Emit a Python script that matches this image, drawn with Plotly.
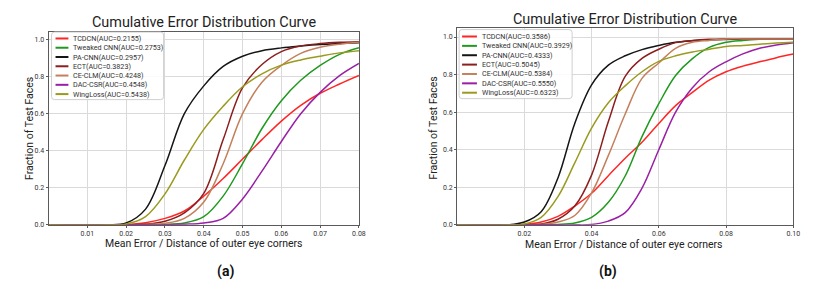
import plotly.graph_objects as go

W, H = 830, 291

# ---------------- data ----------------
methods = ["TCDCN", "Tweaked CNN", "PA-CNN", "ECT", "CE-CLM", "DAC-CSR", "WingLoss"]
auc_a = ["0.2155", "0.2753", "0.2957", "0.3823", "0.4248", "0.4548", "0.5438"]
auc_b = ["0.3586", "0.3929", "0.4333", "0.5045", "0.5384", "0.5550", "0.6323"]
colors = ["#ff2626", "#1f9a1f", "#151515", "#8c1e1e", "#c4805c", "#9a1fa6", "#9a9a1e"]

x_a = [0, 0.015, 0.02, 0.025, 0.03, 0.035, 0.04, 0.045, 0.05, 0.055, 0.06, 0.065, 0.07, 0.075, 0.08]
tcdcn_a   = [0, 0, 0.002, 0.012, 0.035, 0.075, 0.155, 0.25, 0.355, 0.46, 0.56, 0.645, 0.71, 0.76, 0.806]
tweaked_a = [0, 0, 0, 0, 0.002, 0.01, 0.044, 0.155, 0.33, 0.52, 0.67, 0.78, 0.86, 0.92, 0.956]
pacnn_a   = [0, 0, 0.01, 0.085, 0.32, 0.6, 0.75, 0.855, 0.91, 0.94, 0.955, 0.965, 0.973, 0.978, 0.982]
ect_a     = [0, 0, 0, 0.004, 0.02, 0.065, 0.17, 0.46, 0.74, 0.865, 0.935, 0.965, 0.978, 0.985, 0.988]
ceclm_a   = [0, 0, 0, 0.002, 0.008, 0.035, 0.123, 0.33, 0.6, 0.77, 0.86, 0.925, 0.958, 0.975, 0.985]
daccsr_a  = [0, 0, 0, 0, 0, 0.003, 0.01, 0.035, 0.14, 0.29, 0.45, 0.6, 0.715, 0.805, 0.871]
wing_a    = [0, 0, 0.005, 0.045, 0.167, 0.35, 0.515, 0.64, 0.745, 0.815, 0.862, 0.89, 0.91, 0.928, 0.94]

x_b = [0, 0.015, 0.02, 0.025, 0.03, 0.035, 0.04, 0.045, 0.05, 0.055, 0.06, 0.065, 0.07,
       0.075, 0.08, 0.085, 0.09, 0.095, 0.10]
tcdcn_b   = [0, 0, 0.003, 0.015, 0.045, 0.10, 0.168, 0.262, 0.355, 0.44, 0.54, 0.635, 0.705,
             0.77, 0.815, 0.845, 0.868, 0.89, 0.909]
tweaked_b = [0, 0, 0, 0, 0.002, 0.01, 0.04, 0.12, 0.26, 0.47, 0.645, 0.795, 0.885,
             0.945, 0.972, 0.982, 0.988, 0.99, 0.99]
pacnn_b   = [0, 0, 0.015, 0.07, 0.25, 0.54, 0.745, 0.85, 0.90, 0.933, 0.955, 0.972, 0.98,
             0.985, 0.987, 0.988, 0.989, 0.99, 0.99]
ect_b     = [0, 0, 0, 0.005, 0.03, 0.10, 0.265, 0.55, 0.79, 0.886, 0.935, 0.97, 0.982,
             0.988, 0.99, 0.99, 0.99, 0.99, 0.99]
ceclm_b   = [0, 0, 0, 0.002, 0.015, 0.05, 0.17, 0.37, 0.59, 0.78, 0.862, 0.94, 0.972,
             0.982, 0.99, 0.99, 0.99, 0.99, 0.99]
daccsr_b  = [0, 0, 0, 0, 0, 0, 0.002, 0.02, 0.065, 0.195, 0.40, 0.60, 0.73,
             0.815, 0.868, 0.91, 0.94, 0.958, 0.97]
wing_b    = [0, 0, 0.005, 0.04, 0.15, 0.33, 0.515, 0.65, 0.74, 0.815, 0.87, 0.90, 0.92,
             0.935, 0.95, 0.955, 0.962, 0.968, 0.972]

series_a = [tcdcn_a, tweaked_a, pacnn_a, ect_a, ceclm_a, daccsr_a, wing_a]
series_b = [tcdcn_b, tweaked_b, pacnn_b, ect_b, ceclm_b, daccsr_b, wing_b]

xticks_a = [0.01, 0.02, 0.03, 0.04, 0.05, 0.06, 0.07, 0.08]
xticks_b = [0.02, 0.04, 0.06, 0.08, 0.10]
yticks = [0.0, 0.2, 0.4, 0.6, 0.8, 1.0]

title_text = "Cumulative Error Distribution Curve"
xlabel = "Mean Error / Distance of outer eye corners"
ylabel = "Fraction of Test Faces"
captions = ["(a)", "(b)"]

# ---------------- helpers ----------------
def px(xp):
    return xp / W

def py(yp):
    return 1 - yp / H

FONT = "Roboto, DejaVu Sans, sans-serif"

fig = go.Figure()

for ys, c, n in zip(series_a, colors, methods):
    fig.add_trace(go.Scatter(x=x_a, y=ys, mode="lines", name=n,
                             line=dict(color=c, width=1.5, shape="spline", smoothing=1.0),
                             xaxis="x", yaxis="y", showlegend=False))
for ys, c, n in zip(series_b, colors, methods):
    fig.add_trace(go.Scatter(x=x_b, y=ys, mode="lines", name=n,
                             line=dict(color=c, width=1.5, shape="spline", smoothing=1.0),
                             xaxis="x2", yaxis="y2", showlegend=False))

axis_common = dict(showgrid=True, gridcolor="#dadada", gridwidth=1, zeroline=False,
                   showline=True, linecolor="#5a5a5a", linewidth=1, mirror=True,
                   ticks="outside", ticklen=2, tickcolor="#5a5a5a",
                   tickfont=dict(family=FONT, size=7, color="#333333"))

fig.update_layout(
    width=W, height=H, margin=dict(l=0, r=0, t=0, b=0),
    paper_bgcolor="white", plot_bgcolor="white", showlegend=False,
    xaxis=dict(domain=[px(49), px(362)], range=[0, 0.08], tickvals=xticks_a,
               tickformat=".2f", anchor="y", **axis_common),
    yaxis=dict(domain=[py(228), py(32)], range=[0, 1.043], tickvals=yticks,
               tickformat=".1f", anchor="x", **axis_common),
    xaxis2=dict(domain=[px(461), px(800)], range=[0, 0.10], tickvals=xticks_b,
                tickformat=".2f", anchor="y2", **axis_common),
    yaxis2=dict(domain=[py(228), py(28)], range=[0, 1.05], tickvals=yticks,
                tickformat=".1f", anchor="x2", **axis_common),
)

annotations = []
shapes = []

def text(x, y, t, size, xanchor="center", bold=False, angle=0, color="#222222"):
    annotations.append(dict(x=px(x), y=py(y), xref="paper", yref="paper", text=t,
                            showarrow=False, xanchor=xanchor, yanchor="middle",
                            textangle=angle, borderpad=0,
                            font=dict(family=FONT, size=size, color=color,
                                      weight="bold" if bold else "normal")))

def rounded_box(x0, y0, x1, y1, r=3):
    X0, X1 = px(x0), px(x1)
    Y0, Y1 = py(y0), py(y1)  # Y0 top, Y1 bottom (paper)
    rx, ry = r / W, r / H
    path = (f"M {X0+rx},{Y0} L {X1-rx},{Y0} Q {X1},{Y0} {X1},{Y0-ry} "
            f"L {X1},{Y1+ry} Q {X1},{Y1} {X1-rx},{Y1} L {X0+rx},{Y1} "
            f"Q {X0},{Y1} {X0},{Y1+ry} L {X0},{Y0-ry} Q {X0},{Y0} {X0+rx},{Y0} Z")
    shapes.append(dict(type="path", path=path, xref="paper", yref="paper",
                       line=dict(color="#cfcfcf", width=1),
                       fillcolor="rgba(255,255,255,0.85)", layer="above"))

# panel (a)
text(206, 23, title_text, 14.4)
text(206, 247, xlabel, 10.5)
text(29, 130, ylabel, 10.5, angle=-90)
text(227, 275, captions[0], 14, bold=True, color="#111111")
rounded_box(52, 32.5, 165, 101)
for i, (n, a, c) in enumerate(zip(methods, auc_a, colors)):
    yy = 39 + i * 9.4
    shapes.append(dict(type="line", xref="paper", yref="paper", x0=px(56), x1=px(69),
                       y0=py(yy), y1=py(yy), line=dict(color=c, width=2), layer="above"))
    text(73, yy, f"{n}(AUC={a})", 7.2, xanchor="left", color="#333333")

# panel (b)
text(630, 20, title_text, 14.4)
text(629, 247.5, xlabel, 10.5)
text(437, 130, ylabel, 10.5, angle=-90)
text(613, 275, captions[1], 14, bold=True, color="#111111")
rounded_box(463, 30, 577, 100)
for i, (n, a, c) in enumerate(zip(methods, auc_b, colors)):
    yy = 37 + i * 9.5
    shapes.append(dict(type="line", xref="paper", yref="paper", x0=px(466), x1=px(481),
                       y0=py(yy), y1=py(yy), line=dict(color=c, width=2), layer="above"))
    text(485, yy, f"{n}(AUC={a})", 7.2, xanchor="left", color="#333333")

fig.update_layout(annotations=annotations, shapes=shapes)
fig.write_html("out.html", config={"displayModeBar": False},
               post_script="document.body.style.margin='0px';")
